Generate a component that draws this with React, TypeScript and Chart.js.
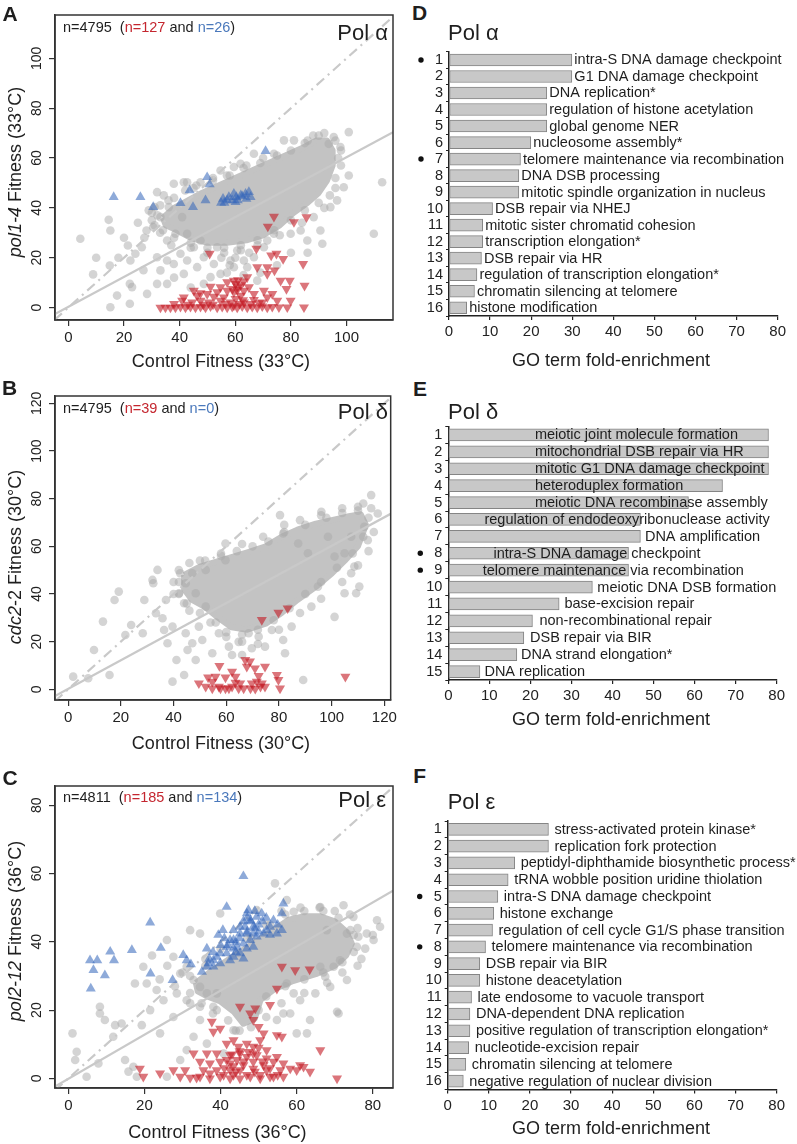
import React, { useEffect, useRef } from "react";
import { Chart, registerables } from "chart.js";

Chart.register(...registerables);

type P = [number, number];

const FONT = '"Liberation Sans", Arial, Helvetica, sans-serif';

// ================= DATA: scatter A (Pol alpha) =================
const aTicksX = [0, 20, 40, 60, 80, 100];
const aTicksY = [0, 20, 40, 60, 80, 100];
const aSlope = 0.6;
const aIntercept = 0.3;
const aCore: P[] = [
  [34, 36], [38, 40], [43, 43], [48, 46], [54, 49], [60, 52], [66, 55], [72, 58], [78, 61], [84, 64], [89, 67],
  [93, 67], [95, 63], [95, 57], [93, 51], [90, 46], [86, 42], [81, 38], [76, 33], [70, 29], [64, 27], [57, 26],
  [50, 26], [44, 28], [39, 31], [35, 33], [34, 36],
];
const aGrey: P[] = [
  [4.3, 27.6], [8.9, 13.3], [14.5, 35.2], [15.1, 30.9], [14.9, 16.9], [15.1, 0.1], [17.5, 4.8], [21.4, 24.9], [22.1, 9.5],
  [22.9, 8.2], [22.1, 1.5], [22.3, 18.9], [24.1, 21.6], [26.4, 24.2], [27.3, 28.0], [28.1, 30.9], [28.9, 39.0], [30.5, 32.3],
  [31.0, 40.3], [31.9, 46.3], [34.3, 45.0], [33.1, 36.3], [31.9, 20.2], [33.1, 14.9], [36.1, 40.3], [35.5, 18.9], [37.9, 49.7],
  [41.5, 50.3], [31.9, 9.5], [28.3, 5.5], [35.5, 9.5], [37.9, 17.5], [40.3, 21.6], [41.5, 13.5], [42.7, 18.9], [45.1, 24.2],
  [46.3, 16.2], [48.7, 20.2], [52.3, 17.5], [53.5, 24.2], [54.7, 13.5], [58.3, 18.9], [59.5, 16.2], [60.7, 22.9], [63.1, 18.9],
  [64.3, 16.2], [66.7, 20.2], [70.3, 24.2], [71.5, 26.9], [73.9, 29.6], [79.9, 29.6], [83.5, 30.9], [90.6, 30.9], [85.9, 26.9],
  [91.3, 25.6], [97.8, 64.4], [100.8, 70.4], [100.8, 53.0], [112.8, 50.3], [109.8, 29.6], [95.4, 68.4], [93.6, 65.7], [77.5, 67.1],
  [81.1, 67.1], [73.9, 61.7], [66.7, 61.7], [61.9, 57.7], [59.5, 56.4], [54.7, 55.0], [42.7, 50.3], [47.5, 50.3], [99.0, 48.3],
  [96.6, 43.0], [94.2, 40.3], [88.2, 36.3], [67.9, 10.8], [51.1, 12.2], [47.5, 26.9], [42.7, 29.6], [38.5, 29.6], [35.5, 26.9],
  [40.9, 36.3], [48.7, 9.5], [97, 60], [98, 57], [96, 52], [86, 67], [90, 69], [70, 60], [64, 57], [58, 53], [52, 52], [45, 48],
  [36, 43], [32, 37], [30, 35], [33, 30], [37, 25], [44, 24], [50, 22], [56, 22], [62, 23], [68, 25], [76, 29], [84, 34],
  [92, 40], [25, 34], [20, 28], [18, 20], [10, 20], [27, 15], [38, 12], [44, 8], [57, 14], [63, 13], [69, 14], [75, 17],
  [80, 22], [86, 22],
  [38, 44], [42, 47], [46, 49], [52, 51], [57, 53], [63, 56], [69, 58], [75, 61], [80, 63], [85, 66], [88, 69], [92, 70],
  [96, 67], [98, 63], [96, 48], [94, 45], [90, 42], [85, 39], [80, 35], [74, 31], [68, 27], [62, 25], [56, 24], [50, 24],
  [44, 26], [38, 28], [34, 31], [31, 33], [30, 38], [33, 41], [55, 20], [60, 20], [65, 22], [58, 17],
];
const aRed: P[] = [
  [73.9, 36.5], [71.7, 32.5], [81.1, 34.3], [85.6, 36.3], [50.8, 21.6], [67.6, 23.6], [72.9, 20.9], [74.8, 21.6], [77.2, 19.5],
  [84.4, 17.5], [67.9, 16.2], [71.5, 16.2], [74.1, 14.9], [71.5, 13.5], [76.3, 10.8], [79.6, 10.8], [78.4, 7.5], [84.9, 8.8],
  [64.3, 12.2], [59.5, 10.8], [57.1, 10.2], [54.7, 8.2], [51.1, 8.4], [45.1, 6.8], [47.5, 5.8], [49.9, 5.5], [53.5, 6.2],
  [57.1, 6.8], [60.7, 7.1], [61.9, 4.8], [63.1, 6.8], [64.9, 8.2], [66.7, 5.5], [70.3, 6.8], [71.5, 4.1], [73.3, 5.5],
  [75.1, 2.8], [79.9, 2.8], [84.7, 0.1], [75.7, 0.1], [78.7, 0.1],
  [33.1, 0], [34.9, 0], [36.7, 0], [38.5, 0], [40.3, 0.3], [42.1, 0], [43.9, 0.3], [45.7, 0], [47.5, 0.3], [49.3, 0],
  [51.1, 0.5], [53.5, 0], [55.3, 0.3], [57.1, 0], [58.9, 0.3], [60.7, 0], [62.5, 0.5], [64.3, 0], [66.1, 0.3], [67.9, 0],
  [69.7, 0.5], [71.5, 0], [73.3, 0.3],
  [40.9, 2.8], [44.5, 2.1], [47.5, 2.8], [50.5, 2.1], [54.7, 2.8], [58.3, 2.1], [60.1, 3.5], [63.1, 2.1], [66.7, 3.1], [69.7, 2.1],
  [41.5, 4.1], [46.3, 4.8], [52.3, 4.4], [55.9, 4.1], [59.5, 6.2], [60.9, 8.2], [60.1, 9.5],
  [61.5, 1.5], [62.8, 3.0], [48.5, 1.2], [56.5, 1.5], [65.5, 1.5], [68.5, 1.8], [43, 1.2], [38, 1.5], [52, 1.2], [59.5, 0.8],
  [61, 11], [62, 9], [59, 7.5], [63, 10.5],
];
const aBlue: P[] = [
  [16.3, 44.3], [25.9, 44.3], [30.5, 40.3], [40.3, 41.9], [43.6, 47.0], [44.8, 40.3], [49.3, 43.0], [49.9, 52.3], [50.8, 49.4],
  [54.9, 42.0], [56.1, 42.0], [57.7, 44.3], [59.5, 45.6], [60.4, 44.3], [60.9, 43.0], [62.5, 44.6], [63.7, 45.6], [64.9, 46.3],
  [64.0, 43.6], [58.9, 43.0], [60.1, 42.3], [70.9, 62.8], [57.1, 43.0], [65.5, 44.3], [55.6, 43.6], [62.0, 45.0],
];

// ================= DATA: scatter B (Pol delta) =================
const bTicksX = [0, 20, 40, 60, 80, 100, 120];
const bTicksY = [0, 20, 40, 60, 80, 100, 120];
const bSlope = 0.6;
const bIntercept = 0.2;
const bCore: P[] = [
  [44, 48], [50, 51.5], [56, 53.5], [62, 55.5], [68, 57.5], [75, 60], [81, 64], [87, 67], [94, 69.5], [100, 71], [106, 72.5],
  [111, 73.5], [113, 69], [110, 60], [105, 54], [100, 48.5], [94, 43], [87, 37.5], [81, 32], [75, 27.5], [68, 25], [62, 26],
  [57, 30], [52, 34.5], [47, 37.5], [44, 42], [44, 48],
];
const bGrey: P[] = [
  [1.9, 5.3], [7.6, 4.6], [9.8, 16.5], [13.2, 28.4], [15.7, 6.0], [17.6, 37.5], [19.2, 41.0], [21.7, 22.8], [23.9, 27.0],
  [28.3, 23.5], [28.9, 37.5], [32.0, 45.9], [33.9, 50.1], [32.3, 44.5], [33.3, 31.9], [37.1, 37.5], [35.8, 29.8], [36.4, 24.9],
  [37.7, 19.3], [39.6, 26.3], [39.6, 3.2], [41.1, 12.3], [42.5, 48.7], [44.0, 6.0], [45.3, 16.5], [44.6, 23.5], [47.1, 19.3],
  [48.4, 12.3], [49.6, 26.3], [50.9, 20.7], [52.2, 34.7], [54.7, 15.1], [57.2, 23.5], [59.7, 54.2], [59.7, 61.2], [61.0, 17.9],
  [62.2, 14.4], [64.7, 19.9], [66.0, 14.4], [68.5, 23.5], [69.7, 17.2], [72.3, 22.1], [74.7, 17.9], [77.3, 24.9], [80.4, 73.1],
  [81.6, 65.4], [81.6, 20.7], [82.3, 15.1], [84.8, 26.3], [89.2, 3.9], [92.3, 34.7], [94.8, 43.1], [96.1, 74.5], [98.6, 64.0],
  [101.1, 30.4], [104.9, 40.3], [107.4, 48.7], [109.3, 40.3], [110.5, 43.1], [108.6, 51.5], [110.0, 76.6], [115.0, 81.5],
  [117.5, 73.8], [113.7, 62.6], [112.4, 68.2], [107.4, 64.0], [104.9, 57.1], [101.1, 55.7], [91.0, 57.1], [87.3, 61.2],
  [52.2, 50.1], [47.1, 48.7], [44.6, 44.5], [42.1, 40.3], [44.0, 36.1], [48.4, 40.3],
  [115, 76], [112, 78], [104, 76], [96, 73], [88, 71], [82, 69], [74, 64], [66, 61], [58, 57], [50, 54], [42, 45], [40, 40],
  [46, 33], [54, 28], [60, 22], [66, 20], [72, 19], [80, 25], [88, 32], [96, 38], [104, 45], [110, 52], [114, 58], [116, 66],
  [42, 50], [46, 53], [52, 54], [58, 56], [64, 58], [70, 60], [76, 62], [82, 66], [90, 69], [98, 72], [104, 74], [110, 75],
  [114, 72], [112, 64], [108, 57], [102, 51], [96, 45], [90, 40], [84, 34], [78, 29], [72, 25], [66, 23], [60, 24], [56, 28],
  [50, 32], [45, 36], [42, 40], [40, 45],
];
const bRed: P[] = [
  [73.5, 29.1], [79.8, 32.2], [83.3, 34.0], [49.6, 2.5], [53.1, 5.0], [54.7, 3.2], [57.4, 9.8], [57.2, 1.1], [59.7, 5.0],
  [62.2, 7.4], [63.5, 2.8], [61.0, 0.4], [59.7, 0.4], [67.2, 12.3], [67.8, 9.5], [69.0, 11.7], [70.9, 8.8], [74.7, 9.5],
  [69.7, 2.5], [71.6, 3.2], [73.5, 2.5], [66.6, 0.4], [69.2, 0.4], [71.0, 0.2], [73.0, 1.1], [64.7, 0.4], [79.2, 6.0],
  [80.4, 0.4], [79.8, 3.9], [105.2, 5.3], [55.9, 5.3], [57.8, 0.4], [62.2, 1.1], [52.2, 1.1], [54.7, 0.4], [63.5, 5.3],
  [65.3, 2.5], [72.3, 5.6], [74.7, 1.1],
];
const bBlue: P[] = [];

// ================= DATA: scatter C (Pol epsilon) =================
const cTicksX = [0, 20, 40, 60, 80];
const cTicksY = [0, 20, 40, 60, 80];
const cSlope = 0.645;
const cIntercept = -0.1;
const cCore: P[] = [
  [33.5, 28], [37, 31], [41, 34], [45, 37], [50, 40.5], [54, 43.5], [58, 46.5], [62, 47.5], [66, 47.5], [70, 46], [73, 43],
  [74.5, 39.5], [73, 36], [70, 33], [65, 30.5], [59, 28.5], [54, 26], [50.5, 23], [49, 17.5], [46, 16], [43.5, 19.5],
  [40, 22.5], [36.5, 24], [34, 25.5], [33.5, 28],
];
const cGrey: P[] = [
  [1.1, 13.2], [2.2, 7.8], [1.8, 5.4], [4.8, 0.5], [7.9, 4.4], [8.3, 21.0], [8.3, 19.0], [9.6, 17.1], [12.3, 15.6], [14.0, 16.1],
  [11.8, 12.2], [14.9, 5.4], [15.8, 2.0], [17.1, 3.4], [17.5, 27.8], [18.0, 0.5], [19.3, 15.6], [19.7, 32.7], [20.6, 27.8],
  [21.5, 20.0], [23.2, 25.9], [24.1, 13.2], [25.0, 22.9], [25.9, 40.5], [25.9, 0.5], [27.6, 35.6], [27.6, 18.0], [29.4, 5.4],
  [31.1, 22.9], [31.1, 8.3], [32.0, 43.4], [32.9, 12.2], [34.6, 42.4], [34.6, 17.1], [36.4, 10.2], [39.9, 48.3], [40.8, 7.3],
  [43.4, 14.1], [49.5, 49.3], [54.3, 57.1], [57.4, 52.2], [59.2, 48.8], [60.0, 13.2], [58.3, 19.0], [60.9, 22.9], [62.7, 13.2],
  [63.5, 17.1], [64.9, 24.9], [66.2, 50.2], [67.9, 43.4], [68.8, 26.8], [70.6, 19.5], [71.0, 19.0], [73.2, 28.8], [72.3, 50.7],
  [73.2, 42.4], [74.1, 43.4], [75.8, 38.5], [76.2, 41.5], [78.4, 42.4], [80.2, 40.5], [81.1, 46.3], [81.9, 44.4], [74.9, 47.3],
  [66.2, 32.7], [67.5, 29.8], [69.7, 32.7], [71.4, 34.6], [57.4, 27.8], [54.8, 17.1], [56.5, 19.0], [59.2, 24.9], [31.1, 32.7],
  [29.4, 30.7], [32.9, 28.8], [34.6, 26.8], [36.4, 24.9], [28.5, 24.9], [34.6, 21.0], [38.1, 21.0], [39.0, 24.9],
  [76, 44], [78, 38], [80, 42], [77, 35], [74, 48], [70, 49], [66, 50], [61, 50], [56, 49], [52, 45], [47, 41], [40, 38],
  [36, 35], [30, 31], [28, 27], [32, 22], [38, 19], [44, 14], [52, 18], [56, 22], [62, 25], [68, 28], [72, 31], [76, 33],
  [26, 33], [24, 29], [22, 36],
  [32, 30], [36, 33], [48, 41], [53, 45], [57, 48], [62, 49], [67, 49], [71, 47], [75, 42], [75, 37], [72, 34], [67, 31],
  [62, 29], [57, 27], [52, 24], [50, 20], [48, 15], [45, 14], [42, 17], [39, 20], [35, 22], [32, 25],
];
const cRed: P[] = [
  [56.1, 32.7], [59.6, 31.7], [63.4, 31.9], [54.8, 26.3], [53.0, 21.5], [45.1, 21.0], [47.8, 19.0], [49.1, 20.5], [48.6, 17.1],
  [50.0, 15.1], [37.7, 16.6], [38.1, 13.7], [39.9, 14.6], [51.3, 13.2], [54.8, 12.7], [56.1, 12.2], [41.6, 10.2], [43.4, 11.2],
  [44.7, 9.3], [46.9, 10.2], [48.6, 9.3], [50.4, 11.2], [52.1, 8.3], [66.2, 8.3], [32.9, 7.3], [36.4, 7.3], [39.0, 7.3],
  [42.5, 6.8], [45.1, 7.3], [47.3, 7.8], [49.5, 6.8], [52.1, 5.9], [54.8, 6.3], [34.6, 4.9], [37.2, 4.4], [39.9, 4.9],
  [42.5, 4.4], [44.3, 5.4], [46.0, 3.9], [48.6, 4.9], [51.3, 3.9], [53.9, 4.9], [56.5, 4.4], [18.8, 2.9], [19.7, 0.5],
  [24.1, 1.5], [27.6, 2.4], [30.7, 2.4], [29.4, 0.5], [32.0, 0.2], [33.7, 0.2], [35.5, 2.4], [37.2, 1.5], [39.0, 2.4],
  [40.8, 1.0], [42.5, 2.4], [43.4, 1.0], [45.1, 2.4], [46.9, 1.0], [48.6, 2.9], [50.4, 1.0], [52.1, 2.4], [53.9, 0.5],
  [55.7, 2.4], [58.3, 2.9], [60.0, 2.4], [61.8, 3.4], [63.5, 2.0], [60.9, 3.9], [70.6, 0.0], [34.6, 0.5], [37.2, 0.0],
  [39.9, 0.5], [42.5, 0.0], [45.1, 0.0], [47.8, 0.5], [50.4, 0.0], [53.0, 0.5], [56.5, 0.5], [43.4, 3.6], [41.6, 5.4],
  [46.9, 6.3], [48.6, 7.3],
  [41, 3], [44, 2], [46, 5], [49, 2], [51, 5], [53, 3], [55, 1], [45, 8], [50, 9], [43, 7],
];
const cBlue: P[] = [
  [5.7, 34.6], [7.6, 34.6], [6.6, 31.7], [5.9, 26.3], [9.6, 30.2], [11.0, 37.1], [12.0, 34.6], [16.7, 37.6], [21.5, 45.6],
  [21.6, 30.7], [24.3, 38.2], [27.4, 28.8], [30.2, 36.1], [31.1, 34.6], [32.2, 33.4], [35.1, 31.2], [36.4, 38.0], [36.8, 33.7],
  [38.1, 34.6], [39.4, 42.0], [39.9, 36.6], [40.6, 43.4], [41.6, 50.2], [42.5, 40.5], [43.4, 43.4], [44.3, 38.5], [45.1, 42.4],
  [46.0, 59.2], [46.4, 44.4], [46.9, 48.3], [47.3, 49.3], [47.8, 46.3], [48.6, 42.4], [49.5, 47.3], [50.8, 48.3], [51.3, 42.4],
  [53.0, 44.4], [53.9, 46.3], [54.8, 42.4], [56.1, 43.4], [56.5, 51.2], [56.1, 48.3], [39.0, 35.6], [41.6, 36.6], [43.4, 35.6],
  [45.1, 36.6], [46.9, 38.0], [48.6, 38.5], [38.1, 32.7], [39.9, 33.7], [36.4, 32.7], [43.4, 38.0], [46.0, 39.5], [47.8, 40.5],
  [49.5, 41.5], [52.1, 43.4], [43.4, 40.5], [41.6, 38.5], [46.9, 42.4], [48.6, 44.4], [45.1, 44.4], [42.5, 34.6], [46.0, 35.1],
  [44, 40], [45, 41], [47, 43], [49, 44], [50, 45], [51, 46], [52, 47], [44, 37], [42, 39], [40, 39], [38, 37], [37, 35],
  [41, 41], [50, 43], [53, 42], [55, 45], [48, 46], [46, 46], [49, 49], [47, 47],
];

// ================= DATA: bar panels =================
const barTicks = [0, 10, 20, 30, 40, 50, 60, 70, 80];

const dTerms = [
  "intra-S DNA damage checkpoint", "G1 DNA damage checkpoint", "DNA replication*", "regulation of histone acetylation",
  "global genome NER", "nucleosome assembly*", "telomere maintenance via recombination", "DNA DSB processing",
  "mitotic spindle organization in nucleus", "DSB repair via NHEJ", "mitotic sister chromatid cohesion",
  "transcription elongation*", "DSB repair via HR", "regulation of transcription elongation*",
  "chromatin silencing at telomere", "histone modification",
];
const dValues = [29.9, 29.9, 23.8, 23.8, 23.8, 19.9, 17.4, 17.0, 17.0, 10.6, 8.2, 8.2, 7.9, 6.8, 6.2, 4.3];
const dMarked = [1, 7];

const eTerms = [
  "meiotic joint molecule formation", "mitochondrial DSB repair via HR", "mitotic G1 DNA damage checkpoint",
  "heteroduplex formation", "meiotic DNA recombinase assembly", "regulation of endodeoxyribonuclease activity",
  "DNA amplification", "intra-S DNA damage checkpoint", "telomere maintenance via recombination",
  "meiotic DNA DSB formation", "base-excision repair", "non-recombinational repair", "DSB repair via BIR",
  "DNA strand elongation*", "DNA replication",
];
const eValues = [78, 78, 78, 66.8, 58.5, 46.8, 46.8, 43.9, 43.9, 35.1, 27.0, 20.5, 18.4, 16.7, 7.7];
const eLabelStart = [21.1, 21.1, 21.1, 21.1, 21.1, 8.8, 47.9, 11.0, 8.4, 36.3, 28.3, 22.2, 19.9, 17.7, 8.8];
const eMarked = [8, 9];

const fTerms = [
  "stress-activated protein kinase*", "replication fork protection", "peptidyl-diphthamide biosynthetic process*",
  "tRNA wobble position uridine thiolation", "intra-S DNA damage checkpoint", "histone exchange",
  "regulation of cell cycle G1/S phase transition", "telomere maintenance via recombination", "DSB repair via BIR",
  "histone deacetylation", "late endosome to vacuole transport", "DNA-dependent DNA replication",
  "positive regulation of transcription elongation*", "nucleotide-excision repair", "chromatin silencing at telomere",
  "negative regulation of nuclear division",
];
const fValues = [24.5, 24.5, 16.3, 14.7, 12.2, 11.2, 10.9, 9.2, 7.8, 7.8, 5.8, 5.4, 5.4, 5.1, 4.4, 3.8];
const fMarked = [5, 8];

// ================= components =================
type Box = { left: number; top: number; width: number; height: number };
type Area = { left: number; top: number; right: number; bottom: number };

type ScatterProps = {
  box: Box; area: Area;
  xMin: number; xMax: number; yMin: number; yMax: number;
  xTicks: number[]; yTicks: number[];
  core: P[]; grey: P[]; red: P[]; blue: P[];
  slope: number; intercept: number;
};

function ScatterPanel(p: ScatterProps) {
  const ref = useRef<HTMLCanvasElement>(null);
  useEffect(() => {
    const canvas = ref.current;
    if (!canvas) return;
    const pts = (a: P[]) => a.map(([x, y]) => ({ x, y }));
    const fit = [p.xMin, p.xMax].map((x) => ({ x, y: p.intercept + p.slope * x }));
    const lo = Math.min(p.xMin, p.yMin);
    const hi = Math.max(p.xMax, p.yMax);
    const diag = [{ x: lo, y: lo }, { x: hi, y: hi }];
    const padTop = p.area.top - p.box.top;
    const padRight = p.box.left + p.box.width - p.area.right;
    const yW = p.area.left - p.box.left;
    const xH = p.box.top + p.box.height - p.area.bottom;

    const axisPlugin = {
      id: "scatterAxis",
      afterDraw(chart: any) {
        const { ctx, chartArea } = chart;
        const ys = chart.scales.y;
        ctx.save();
        ctx.font = `14px ${FONT}`;
        ctx.fillStyle = "#222";
        ctx.textAlign = "center";
        ctx.textBaseline = "middle";
        p.yTicks.forEach((t) => {
          const py = ys.getPixelForValue(t);
          ctx.save();
          ctx.translate(chartArea.left - 17.5, py);
          ctx.rotate(-Math.PI / 2);
          ctx.fillText(String(t), 0, 0);
          ctx.restore();
        });
        ctx.strokeStyle = "#333";
        ctx.lineWidth = 1.5;
        ctx.strokeRect(chartArea.left, chartArea.top, chartArea.right - chartArea.left, chartArea.bottom - chartArea.top);
        ctx.restore();
      },
    };

    const chart = new Chart(canvas, {
      type: "scatter",
      data: {
        datasets: [
          {
            type: "scatter", data: pts(p.red), pointStyle: "triangle", rotation: 180, pointRadius: 5.8,
            backgroundColor: "rgba(195,25,35,0.6)", borderWidth: 0, order: 0,
          } as any,
          {
            type: "scatter", data: pts(p.blue), pointStyle: "triangle", pointRadius: 5.8,
            backgroundColor: "rgba(50,100,185,0.55)", borderWidth: 0, order: 1,
          } as any,
          {
            type: "line", data: fit, borderColor: "#c9c9c9", borderWidth: 2.2, pointRadius: 0, fill: false, order: 2,
          } as any,
          {
            type: "line", data: diag, borderColor: "#c9c9c9", borderWidth: 2.2, borderDash: [10, 5, 2, 5],
            pointRadius: 0, fill: false, order: 3,
          } as any,
          {
            type: "scatter", data: pts(p.grey), pointStyle: "circle", pointRadius: 4.3,
            backgroundColor: "rgba(170,170,170,0.5)", borderWidth: 0, order: 4,
          } as any,
          {
            type: "line", data: pts(p.core), fill: "shape", backgroundColor: "#c3c3c3", borderColor: "#c3c3c3",
            borderWidth: 6, borderJoinStyle: "round", pointRadius: 0, tension: 0, order: 5,
          } as any,
        ],
      },
      options: {
        responsive: false,
        animation: false,
        events: [],
        layout: { padding: { top: padTop, right: padRight, left: 0, bottom: 0 } },
        plugins: { legend: { display: false }, tooltip: { enabled: false } },
        scales: {
          x: {
            type: "linear", min: p.xMin, max: p.xMax,
            afterBuildTicks: (s: any) => { s.ticks = p.xTicks.map((v) => ({ value: v })); },
            afterFit: (s: any) => { s.height = xH; },
            grid: { drawOnChartArea: false, drawTicks: true, tickLength: 6, color: "#333", lineWidth: 1.2 },
            border: { display: true, color: "#333", width: 1.5 },
            ticks: { font: { family: FONT, size: 15 }, color: "#222", padding: 3, maxRotation: 0, autoSkip: false },
          },
          y: {
            type: "linear", min: p.yMin, max: p.yMax,
            afterBuildTicks: (s: any) => { s.ticks = p.yTicks.map((v) => ({ value: v })); },
            afterFit: (s: any) => { s.width = yW; },
            grid: { drawOnChartArea: false, drawTicks: true, tickLength: 6, color: "#333", lineWidth: 1.2 },
            border: { display: true, color: "#333", width: 1.5 },
            ticks: { display: false },
          },
        },
      } as any,
      plugins: [axisPlugin],
    });
    return () => chart.destroy();
  }, []);
  return (
    <canvas
      ref={ref}
      width={p.box.width}
      height={p.box.height}
      style={{ position: "absolute", left: p.box.left, top: p.box.top, width: p.box.width, height: p.box.height }}
    />
  );
}

type BarProps = {
  box: Box; area: Area; terms: string[]; values: number[]; marked: number[];
  labelStart?: number[]; gap: number;
};

function BarPanel(p: BarProps) {
  const ref = useRef<HTMLCanvasElement>(null);
  useEffect(() => {
    const canvas = ref.current;
    if (!canvas) return;
    const padTop = p.area.top - p.box.top;
    const padRight = p.box.left + p.box.width - p.area.right;
    const yW = p.area.left - p.box.left;
    const xH = p.box.top + p.box.height - p.area.bottom;
    const labelPlugin = {
      id: "barLabels",
      afterDatasetsDraw(chart: any) {
        const { ctx, chartArea } = chart;
        const meta = chart.getDatasetMeta(0);
        const xs = chart.scales.x;
        ctx.save();
        ctx.font = `14.5px ${FONT}`;
        ctx.fillStyle = "#1e1e1e";
        ctx.textAlign = "left";
        ctx.textBaseline = "middle";
        meta.data.forEach((el: any, i: number) => {
          const sx = p.labelStart ? xs.getPixelForValue(p.labelStart[i]) : el.x + p.gap;
          ctx.fillText(p.terms[i], sx, el.y + 0.5);
        });
        ctx.fillStyle = "#111";
        p.marked.forEach((r) => {
          const el = meta.data[r - 1];
          if (!el) return;
          ctx.beginPath();
          ctx.arc(chartArea.left - 28, el.y, 2.7, 0, Math.PI * 2);
          ctx.fill();
        });
        ctx.restore();
      },
    };
    const chart = new Chart(canvas, {
      type: "bar",
      data: {
        labels: p.terms.map((_, i) => String(i + 1)),
        datasets: [
          {
            data: p.values, backgroundColor: "#c8c8c8", borderColor: "#858585", borderWidth: 1,
            borderSkipped: false, barThickness: 12,
          } as any,
        ],
      },
      options: {
        indexAxis: "y",
        responsive: false,
        animation: false,
        events: [],
        layout: { padding: { top: padTop, right: padRight, left: 0, bottom: 0 } },
        plugins: { legend: { display: false }, tooltip: { enabled: false } },
        scales: {
          x: {
            type: "linear", min: 0, max: 80,
            afterBuildTicks: (s: any) => { s.ticks = barTicks.map((v) => ({ value: v })); },
            afterFit: (s: any) => { s.height = xH; },
            grid: { drawOnChartArea: false, drawTicks: true, tickLength: 4, color: "#222", lineWidth: 1.2 },
            border: { display: true, color: "#222", width: 1.5 },
            ticks: { font: { family: FONT, size: 15 }, color: "#222", padding: 3, maxRotation: 0, autoSkip: false },
          },
          y: {
            type: "category",
            afterFit: (s: any) => { s.width = yW; },
            grid: { drawOnChartArea: false, drawTicks: true, tickLength: 3, color: "#222", lineWidth: 1, offset: true },
            border: { display: true, color: "#222", width: 1.5 },
            ticks: { font: { family: FONT, size: 14.5 }, color: "#222", padding: 3, autoSkip: false },
          },
        },
      } as any,
      plugins: [labelPlugin],
    });
    return () => chart.destroy();
  }, []);
  return (
    <canvas
      ref={ref}
      width={p.box.width}
      height={p.box.height}
      style={{ position: "absolute", left: p.box.left, top: p.box.top, width: p.box.width, height: p.box.height }}
    />
  );
}

function Txt(props: {
  x: number; y: number; size: number; bold?: boolean; align?: "left" | "center" | "right";
  rotate?: number; children: React.ReactNode;
}) {
  const { x, y, size, bold, align = "center", rotate = 0, children } = props;
  const tx = align === "center" ? "-50%" : align === "right" ? "-100%" : "0";
  return (
    <div
      style={{
        position: "absolute", left: x, top: y, transform: `translate(${tx}, -50%) rotate(${rotate}deg)`,
        fontSize: size, fontWeight: bold ? 700 : 400, lineHeight: 1, whiteSpace: "pre", color: "#1e1e1e",
        fontFamily: FONT,
      }}
    >
      {children}
    </div>
  );
}

const RED = "#c4262f";
const BLUE = "#4a78bb";

function NText({ total, red, blue }: { total: number; red: number; blue: number }) {
  return (
    <>
      {`n=${total}  (`}
      <span style={{ color: RED }}>{`n=${red}`}</span>
      {" and "}
      <span style={{ color: BLUE }}>{`n=${blue}`}</span>
      {")"}
    </>
  );
}

export default function App() {
  return (
    <div
      style={{
        position: "absolute", left: 0, top: 0, width: 797, height: 1144, overflow: "hidden",
        background: "#fff", fontFamily: FONT,
      }}
    >
      <ScatterPanel
        box={{ left: 0, top: 0, width: 400, height: 350 }}
        area={{ left: 55, top: 15, right: 393, bottom: 320 }}
        xMin={-4.8} xMax={116.7} yMin={-5.0} yMax={117.4}
        xTicks={aTicksX} yTicks={aTicksY}
        core={aCore} grey={aGrey} red={aRed} blue={aBlue}
        slope={aSlope} intercept={aIntercept}
      />
      <ScatterPanel
        box={{ left: 0, top: 370, width: 400, height: 370 }}
        area={{ left: 55, top: 396, right: 393, bottom: 700 }}
        xMin={-5.0} xMax={122.4} yMin={-4.5} yMax={123.1}
        xTicks={bTicksX} yTicks={bTicksY}
        core={bCore} grey={bGrey} red={bRed} blue={bBlue}
        slope={bSlope} intercept={bIntercept}
      />
      <ScatterPanel
        box={{ left: 0, top: 760, width: 400, height: 370 }}
        area={{ left: 55, top: 786, right: 393, bottom: 1088 }}
        xMin={-3.5} xMax={85.3} yMin={-2.8} yMax={85.6}
        xTicks={cTicksX} yTicks={cTicksY}
        core={cCore} grey={cGrey} red={cRed} blue={cBlue}
        slope={cSlope} intercept={cIntercept}
      />
      <BarPanel
        box={{ left: 400, top: 40, width: 397, height: 310 }}
        area={{ left: 449, top: 47.5, right: 777.7, bottom: 316 }}
        terms={dTerms} values={dValues} marked={dMarked} gap={2.5}
      />
      <BarPanel
        box={{ left: 400, top: 400, width: 397, height: 310 }}
        area={{ left: 448.3, top: 426.5, right: 776.7, bottom: 680 }}
        terms={eTerms} values={eValues} marked={eMarked} labelStart={eLabelStart} gap={3}
      />
      <BarPanel
        box={{ left: 400, top: 795, width: 397, height: 325 }}
        area={{ left: 447.7, top: 821, right: 776.7, bottom: 1089.5 }}
        terms={fTerms} values={fValues} marked={fMarked} gap={6}
      />

      {/* panel letters */}
      <Txt x={10} y={12.5} size={21} bold>A</Txt>
      <Txt x={9.5} y={386.7} size={21} bold>B</Txt>
      <Txt x={10} y={776.7} size={21} bold>C</Txt>
      <Txt x={419.7} y={11.7} size={21} bold>D</Txt>
      <Txt x={420} y={387.5} size={21} bold>E</Txt>
      <Txt x={419.7} y={775} size={21} bold>F</Txt>

      {/* scatter annotations */}
      <Txt x={63} y={26.7} size={14.5} align="left"><NText total={4795} red={127} blue={26} /></Txt>
      <Txt x={63} y={408.3} size={14.5} align="left"><NText total={4795} red={39} blue={0} /></Txt>
      <Txt x={63} y={796.7} size={14.5} align="left"><NText total={4811} red={185} blue={134} /></Txt>
      <Txt x={388} y={32.5} size={22} align="right">Pol α</Txt>
      <Txt x={388} y={411.7} size={22} align="right">Pol δ</Txt>
      <Txt x={386} y={800} size={22} align="right">Pol ε</Txt>

      {/* scatter axis titles */}
      <Txt x={15} y={172} size={18} rotate={-90}><i>pol1-4</i> Fitness (33°C)</Txt>
      <Txt x={15} y={556.7} size={18} rotate={-90}><i>cdc2</i>-2 Fitness (30°C)</Txt>
      <Txt x={15} y={931} size={18} rotate={-90}><i>pol2-12</i> Fitness (36°C)</Txt>
      <Txt x={221} y={361} size={18}>Control Fitness (33°C)</Txt>
      <Txt x={221} y={743.3} size={18}>Control Fitness (30°C)</Txt>
      <Txt x={217.5} y={1131.7} size={18}>Control Fitness (36°C)</Txt>

      {/* bar titles */}
      <Txt x={448} y={32.5} size={22} align="left">Pol α</Txt>
      <Txt x={448} y={411.7} size={22} align="left">Pol δ</Txt>
      <Txt x={447.7} y={801.7} size={22} align="left">Pol ε</Txt>
      <Txt x={611} y={360} size={18}>GO term fold-enrichment</Txt>
      <Txt x={611} y={718.5} size={18}>GO term fold-enrichment</Txt>
      <Txt x={611} y={1128} size={18}>GO term fold-enrichment</Txt>
    </div>
  );
}
